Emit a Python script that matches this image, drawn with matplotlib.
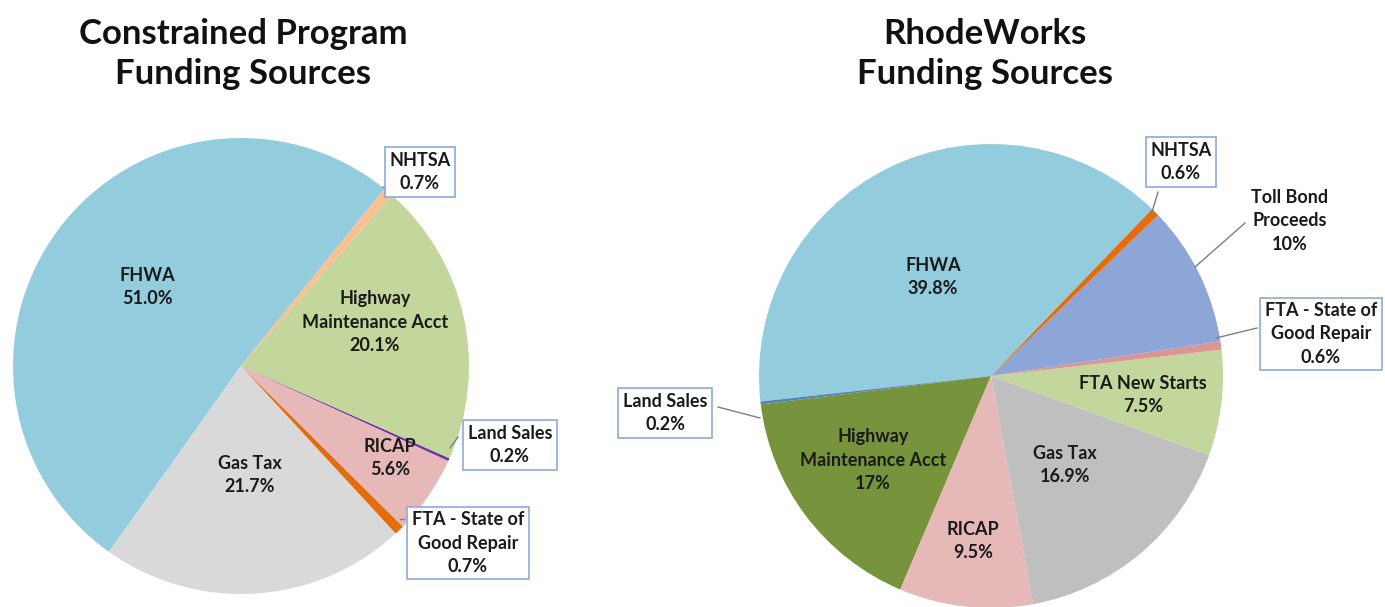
import matplotlib
matplotlib.use("Agg")
import matplotlib.pyplot as plt

plt.rcParams['font.family'] = ['Lato', 'DejaVu Sans']

# left chart data (counterclockwise from FHWA)
left_labels = ['FHWA', 'Gas Tax', 'FTA - State of\nGood Repair', 'RICAP', 'Land Sales',
               'Highway\nMaintenance Acct', 'NHTSA']
left_values = [51.0, 21.7, 0.7, 5.6, 0.2, 20.1, 0.7]
left_pct = ['51.0%', '21.7%', '0.7%', '5.6%', '0.2%', '20.1%', '0.7%']
left_colors = ['#93CDDD', '#D9D9D9', '#E46C0A', '#E6B9B8', '#7030A0', '#C3D69B', '#FAC090']

# right chart data
right_labels = ['FHWA', 'Land Sales', 'Highway\nMaintenance Acct', 'RICAP', 'Gas Tax',
                'FTA New Starts', 'FTA - State of\nGood Repair', 'Toll Bond\nProceeds', 'NHTSA']
right_values = [39.8, 0.2, 17, 9.5, 16.9, 7.5, 0.6, 10, 0.6]
right_pct = ['39.8%', '0.2%', '17%', '9.5%', '16.9%', '7.5%', '0.6%', '10%', '0.6%']
right_colors = ['#93CDDD', '#4F81BD', '#77933C', '#E6B9B8', '#BFBFBF', '#C3D69B',
                '#D99694', '#8EA5D8', '#E46C0A']

W, H = 1385, 607
fig = plt.figure(figsize=(W / 100, H / 100), dpi=100)
ax = fig.add_axes([0, 0, 1, 1])

ax.pie(left_values, colors=left_colors, startangle=51, center=(241, H - 366), radius=228,
       wedgeprops=dict(linewidth=0), normalize=True)
ax.pie(right_values, colors=right_colors, startangle=46, center=(991, H - 376), radius=232,
       wedgeprops=dict(linewidth=0), normalize=True)

ax.set_xlim(0, W)
ax.set_ylim(0, H)
ax.set_aspect('equal')
ax.axis('off')

ax.text(243, H - 54, 'Constrained Program\nFunding Sources', ha='center', va='center',
        fontsize=25, fontweight='bold', linespacing=1.32, color='#111111')
ax.text(985, H - 54, 'RhodeWorks\nFunding Sources', ha='center', va='center',
        fontsize=25, fontweight='bold', linespacing=1.32, color='#111111')

box = dict(boxstyle='square,pad=0.25', fc='white', ec='#8EA9DB', lw=1.2)
lab_kw = dict(ha='center', va='center', fontsize=13, fontweight='bold', linespacing=1.45,
              color='#1A1A1A')

# label positions in image pixels (x, y from top), boxed or not, leader line
left_pos = [(147, 287, False, None), (250, 475, False, None),
            (468, 543, True, ((400, 519), (404, 519))),
            (390, 458, False, None),
            (510, 445, True, ((450, 448), (458, 437))),
            (375, 322, False, None),
            (420, 172, True, ((383, 187), (388, 190)))]
right_pos = [(933, 277, False, None),
             (665, 413, True, ((760, 418), (718, 407))),
             (873, 460, False, None), (973, 541, False, None), (1065, 465, False, None),
             (1143, 395, False, None),
             (1321, 334, True, ((1216, 338), (1257, 328))),
             (1290, 221, False, ((1195, 267), (1245, 223))),
             (1181, 162, True, ((1152, 212), (1158, 192)))]

for labels, pcts, pos in [(left_labels, left_pct, left_pos), (right_labels, right_pct, right_pos)]:
    for lab, pct, (x, y, boxed, lead) in zip(labels, pcts, pos):
        if lead is not None:
            (x0, y0), (x1, y1) = lead
            ax.plot([x0, x1], [H - y0, H - y1], color='#7F7F7F', lw=1)
        ax.text(x, H - y, lab + '\n' + pct, bbox=box if boxed else None, **lab_kw)

fig.savefig('out.png', dpi=100)
